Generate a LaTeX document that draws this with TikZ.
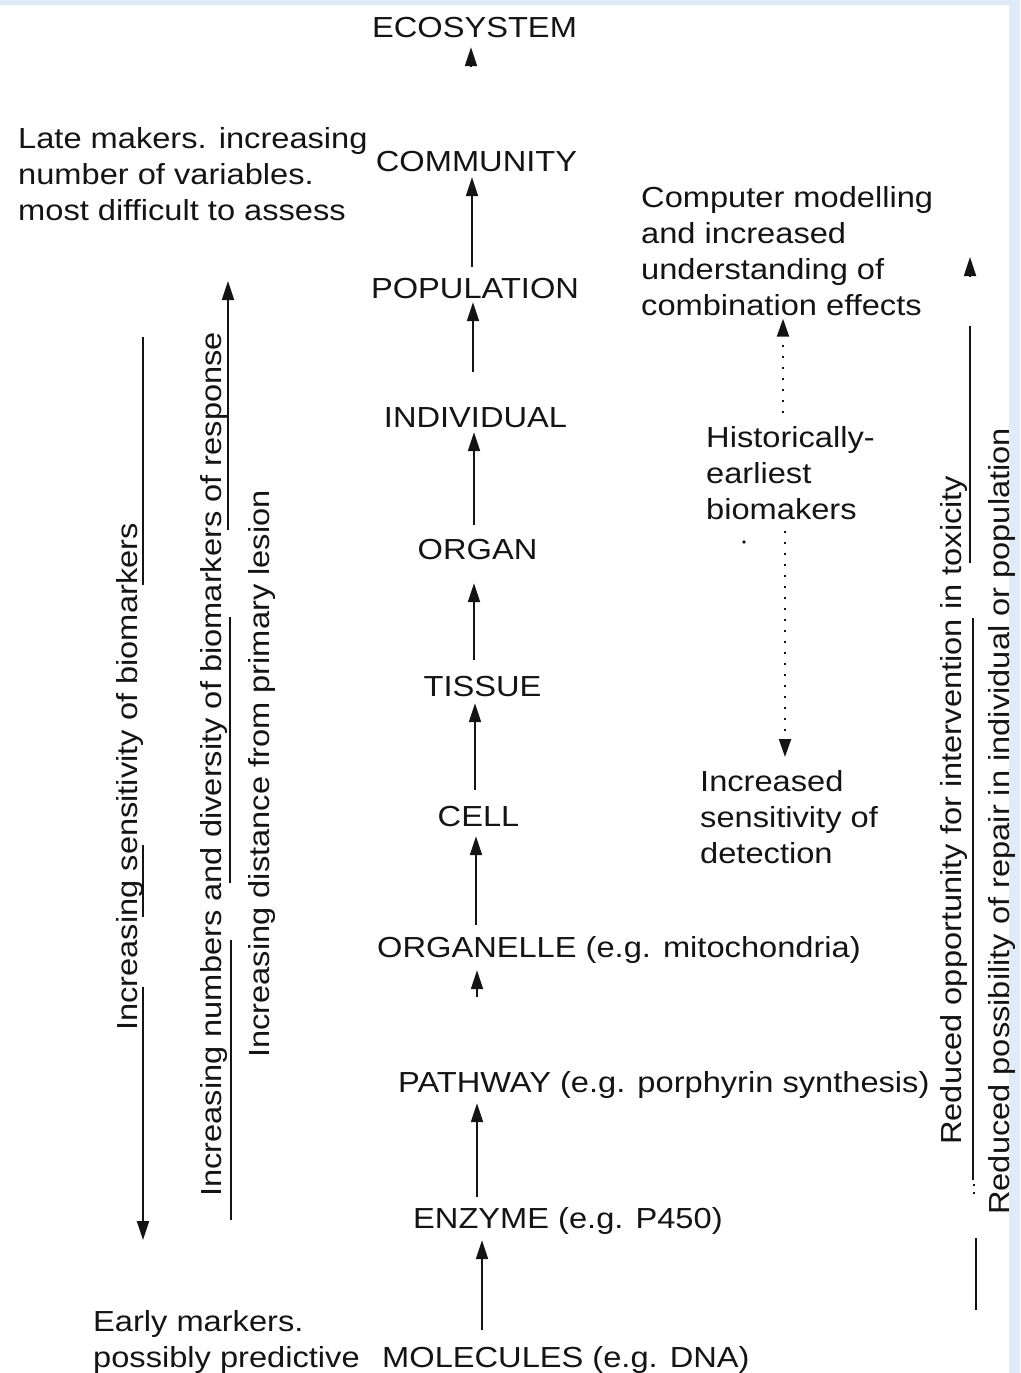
\documentclass[tikz,border=0pt]{standalone}
\usepackage{fontspec}
\setmainfont[FakeStretch=1.125]{Liberation Sans}
\usetikzlibrary{arrows.meta,calc}
\definecolor{bgblue}{RGB}{224,235,249}
\definecolor{ink}{RGB}{20,20,20}
\begin{document}
\begin{tikzpicture}[x=1pt,y=-1pt,
  lbl/.style={inner sep=0pt, text=ink, font=\fontsize{29}{36}\selectfont},
  lvl/.style={lbl, anchor=base, text height=21pt, text depth=0pt},
  lvlw/.style={lvl, anchor=base west},
  multi/.style={lbl, align=left, anchor=north west},
  vert/.style={lbl, rotate=90, anchor=base west},
  arr/.style={draw=ink, line width=1.8pt, -{Triangle[length=19pt,width=12pt]}},
  seg/.style={draw=ink, line width=1.8pt},
  dotarr/.style={draw=ink, line width=2.2pt, dash pattern=on 2pt off 9pt, -{Triangle[length=18pt,width=12pt,sep=0pt]}}]
\useasboundingbox (0,0) rectangle (1020,1373);
\fill[bgblue] (0,0) rectangle (1020,1373);
\fill[white] (0,5) rectangle (1009,1373);

% central hierarchy
\node[lvl] (eco) at (474.5,37) {ECOSYSTEM};
\node[lvl] (com) at (476.5,171) {COMMUNITY};
\node[lvl] (pop) at (475,298) {POPULATION};
\node[lvl] (ind) at (475.5,427) {INDIVIDUAL};
\node[lvl] (org) at (477.5,559) {ORGAN};
\node[lvl] (tis) at (482.5,696) {TISSUE};
\node[lvl] (cell) at (478.5,826) {CELL};
\node[lvlw] (orgl) at (377,957) {ORGANELLE (e.g. mitochondria)};
\node[lvlw] (path) at (398,1092) {PATHWAY (e.g. porphyrin synthesis)};
\node[lvlw] (enz) at (413,1228) {ENZYME (e.g. P450)};
\node[lvlw] (mol) at (382,1367) {MOLECULES (e.g. DNA)};

% x positions of the central arrows
\coordinate (x1) at (471,0);
\coordinate (x2) at (472,0);
\coordinate (x3) at (473,0);
\coordinate (x4) at (474,0);
\coordinate (x5) at (475,0);
\coordinate (x6) at (476,0);
\coordinate (x7) at (477,0);
\coordinate (x8) at (482,0);
\coordinate (ecostub) at (471,67);
\coordinate (orglstub) at (477,997);

\draw[arr] (ecostub) -- ($(eco.south -| x1)+(0pt,-10pt)$);
\draw[arr] ($(pop.north -| x2)+(0pt,10pt)$) -- ($(com.south -| x2)+(0pt,-6pt)$);
\draw[arr] ($(ind.north -| x3)+(0pt,34pt)$) -- ($(pop.south -| x3)+(0pt,-4pt)$);
\draw[arr] ($(org.north -| x4)+(0pt,13pt)$) -- ($(ind.south -| x4)+(0pt,-5pt)$);
\draw[arr] ($(tis.north -| x4)+(0pt,15pt)$) -- ($(org.south -| x4)+(0pt,-24pt)$);
\draw[arr] ($(cell.north -| x5)+(0pt,15pt)$) -- ($(tis.south -| x5)+(0pt,-7pt)$);
\draw[arr] ($(orgl.north -| x6)+(0pt,11pt)$) -- ($(cell.south -| x6)+(0pt,-10pt)$);
\draw[arr] (orglstub) -- ($(orgl.south -| x7)+(0pt,-13pt)$);
\draw[arr] ($(enz.north -| x7)+(0pt,10pt)$) -- ($(path.south -| x7)+(0pt,-11pt)$);
\draw[arr] ($(mol.north -| x8)+(0pt,16pt)$) -- ($(enz.south -| x8)+(0pt,-12pt)$);

% side texts
\node[multi] (late) at (18,127) {Late makers. increasing\\number of variables.\\most difficult to assess};
\node[multi] (comp) at (641,186) {Computer modelling\\and increased\\understanding of\\combination effects};
\node[multi] (hist) at (706,426) {Historically-\\earliest\\biomakers};
\node[multi] (incr) at (700,770) {Increased\\sensitivity of\\detection};
\node[multi] (early) at (93,1310) {Early markers.\\possibly predictive};

% dotted arrows
\coordinate (xu) at (783,0);
\coordinate (xd) at (785,0);
\draw[dotarr] ($(hist.north -| xu)+(0pt,13pt)$) -- ($(comp.south -| xu)+(0pt,-3pt)$);
\draw[dotarr] ($(hist.south -| xd)+(0pt,-11pt)$) -- ($(incr.north -| xd)+(0pt,13pt)$);
\fill[ink] (744,542) circle (1.8);

% vertical texts
\node[vert] (sens) at (137,1031) {Increasing sensitivity of biomarkers};
\node[vert] (numb) at (221,1197) {Increasing numbers and diversity of biomarkers of response};
\node[vert] (dist) at (269,1058) {Increasing distance from primary lesion};
\node[vert] (oppo) at (961,1145) {Reduced opportunity for intervention in toxicity};
\node[vert] (poss) at (1009,1215) {Reduced possibility of repair in individual or population};

% left vertical lines
\draw[seg] (143,337) -- (143,585);
\draw[seg] (143,845) -- (143,917);
\draw[arr] (143,987) -- (143,1240);
\draw[arr] (228,530) -- (228,281);
\draw[seg] (230,617) -- (230,883);
\draw[seg] (231,940) -- (231,1220);

% right vertical lines
\draw[arr] (970,276) -- (970,257);
\draw[seg] (970,326) -- (970,563);
\draw[seg] (973,618) -- (973,1180);
\draw[draw=ink, line width=1.6pt, dash pattern=on 2pt off 6pt] (974,1184) -- (974,1198);
\draw[seg] (976,1238) -- (976,1310);
\end{tikzpicture}
\end{document}
